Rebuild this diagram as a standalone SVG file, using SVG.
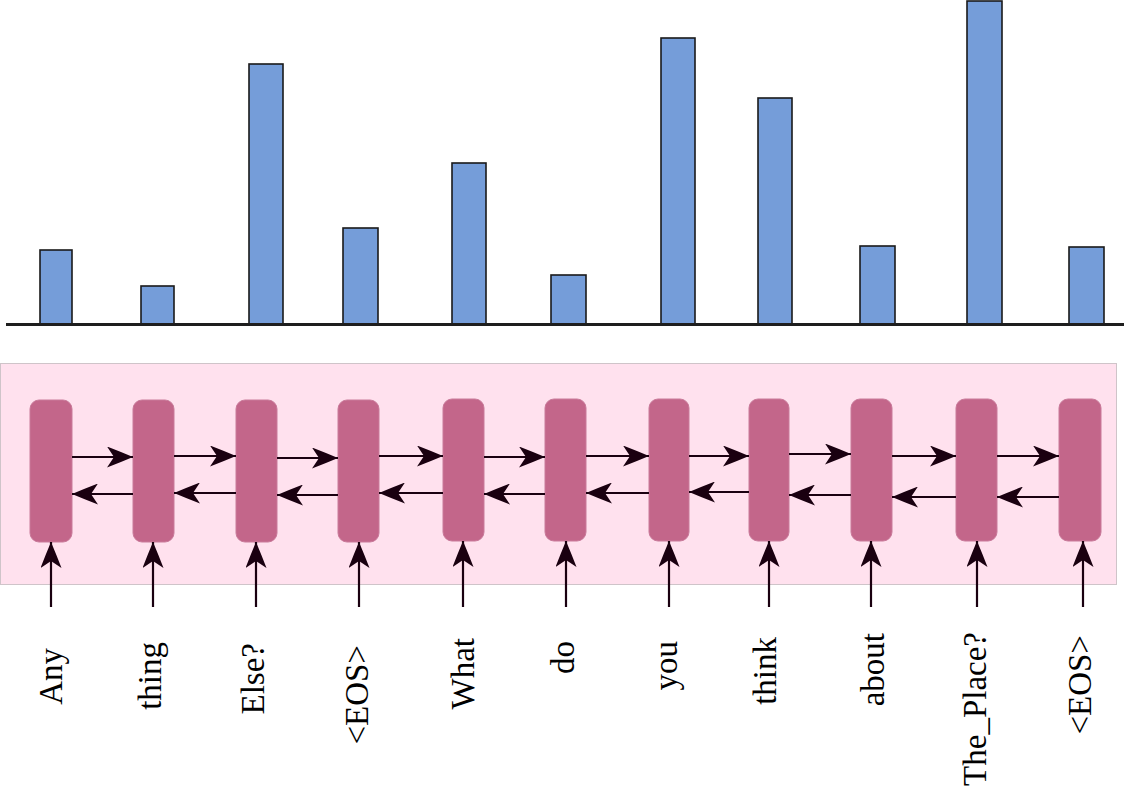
<svg xmlns="http://www.w3.org/2000/svg" width="1124" height="788" viewBox="0 0 1124 788">
<defs>
<style>
.bar{fill:#759dd9;stroke:#1a1a1a;stroke-width:1.6}
.cell{fill:#c3668a;stroke:#c97a9a;stroke-width:1}
.conn{stroke:#1a0010;stroke-width:2.2;fill:none}
.fw{marker-end:url(#ah)}
.lbl{font-family:"Liberation Serif","Times New Roman",serif;font-size:33px;fill:#000;text-anchor:end}
</style>
<marker id="ah" viewBox="0 0 26 21" refX="26" refY="10.5" markerWidth="26" markerHeight="21" markerUnits="userSpaceOnUse" orient="auto">
<path d="M26,10.5 Q13,5 0,0 L7,10.5 L0,21 Q13,16 26,10.5 Z" fill="#1a0010"/>
</marker>
</defs>
<rect width="1124" height="788" fill="#fff"/>
<g id="chart">
<rect class="bar" x="40" y="250" width="32" height="74"/>
<rect class="bar" x="141" y="286" width="33" height="38"/>
<rect class="bar" x="249" y="64" width="34" height="260"/>
<rect class="bar" x="343" y="228" width="35" height="96"/>
<rect class="bar" x="452" y="163" width="34" height="161"/>
<rect class="bar" x="551" y="275" width="35" height="49"/>
<rect class="bar" x="661" y="38" width="34" height="286"/>
<rect class="bar" x="758" y="98" width="34" height="226"/>
<rect class="bar" x="860" y="246" width="35" height="78"/>
<rect class="bar" x="967" y="1" width="35" height="323"/>
<rect class="bar" x="1069" y="247" width="35" height="77"/>
<line x1="6" y1="324.5" x2="1124" y2="324.5" stroke="#1e1e1e" stroke-width="3"/>
</g>
<rect id="encoder-bg" x="0.5" y="363.5" width="1116" height="221" fill="#ffe1ee" stroke="#cfc4c9" stroke-width="1"/>
<g id="cell1"><rect class="cell" x="30" y="400" width="42" height="142" rx="9"/></g>
<g id="cell2"><rect class="cell" x="133" y="400" width="41" height="142" rx="9"/></g>
<g id="cell3"><rect class="cell" x="236" y="400" width="41" height="142" rx="9"/></g>
<g id="cell4"><rect class="cell" x="338" y="400" width="41" height="142" rx="9"/></g>
<g id="cell5"><rect class="cell" x="443" y="399" width="41" height="142" rx="9"/></g>
<g id="cell6"><rect class="cell" x="545" y="399" width="41" height="142" rx="9"/></g>
<g id="cell7"><rect class="cell" x="649" y="399" width="40" height="142" rx="9"/></g>
<g id="cell8"><rect class="cell" x="749" y="399" width="40" height="142" rx="9"/></g>
<g id="cell9"><rect class="cell" x="851" y="399" width="41" height="142" rx="9"/></g>
<g id="cell10"><rect class="cell" x="956" y="399" width="41" height="142" rx="9"/></g>
<g id="cell11"><rect class="cell" x="1059" y="399" width="42" height="142" rx="9"/></g>
<g id="connectors">
<path class="conn fw" d="M72,457 H133"/>
<path class="conn fw" d="M133,494 H72"/>
<path class="conn fw" d="M174,456 H236"/>
<path class="conn fw" d="M236,493 H174"/>
<path class="conn fw" d="M277,458 H338"/>
<path class="conn fw" d="M338,495 H277"/>
<path class="conn fw" d="M379,456 H443"/>
<path class="conn fw" d="M443,493 H379"/>
<path class="conn fw" d="M484,457 H545"/>
<path class="conn fw" d="M545,494 H484"/>
<path class="conn fw" d="M586,456 H649"/>
<path class="conn fw" d="M649,493 H586"/>
<path class="conn fw" d="M689,456 H749"/>
<path class="conn fw" d="M749,492 H689"/>
<path class="conn fw" d="M789,454 H851"/>
<path class="conn fw" d="M851,495 H789"/>
<path class="conn fw" d="M892,456 H956"/>
<path class="conn fw" d="M956,497 H892"/>
<path class="conn fw" d="M997,456 H1059"/>
<path class="conn fw" d="M1059,497 H997"/>
<path class="conn fw" d="M51,607 V542"/>
<path class="conn fw" d="M153,607 V542"/>
<path class="conn fw" d="M256,607 V542"/>
<path class="conn fw" d="M359,607 V542"/>
<path class="conn fw" d="M463,607 V541"/>
<path class="conn fw" d="M566,607 V541"/>
<path class="conn fw" d="M669,607 V541"/>
<path class="conn fw" d="M769,607 V541"/>
<path class="conn fw" d="M871,607 V541"/>
<path class="conn fw" d="M977,607 V541"/>
<path class="conn fw" d="M1083,607 V541"/>
</g>
<g id="labels">
<text class="lbl" transform="translate(62,648) rotate(-90)">Any</text>
<text class="lbl" transform="translate(161,642) rotate(-90)">thing</text>
<text class="lbl" transform="translate(264,643) rotate(-90)">Else?</text>
<text class="lbl" transform="translate(368,645) rotate(-90)">&lt;EOS&gt;</text>
<text class="lbl" transform="translate(474,638) rotate(-90)">What</text>
<text class="lbl" transform="translate(574,641) rotate(-90)">do</text>
<text class="lbl" transform="translate(677,641) rotate(-90)">you</text>
<text class="lbl" transform="translate(776,637) rotate(-90)">think</text>
<text class="lbl" transform="translate(884,633) rotate(-90)">about</text>
<text class="lbl" transform="translate(986,632) rotate(-90)">The_Place?</text>
<text class="lbl" transform="translate(1091,635) rotate(-90)">&lt;EOS&gt;</text>
</g>
</svg>
